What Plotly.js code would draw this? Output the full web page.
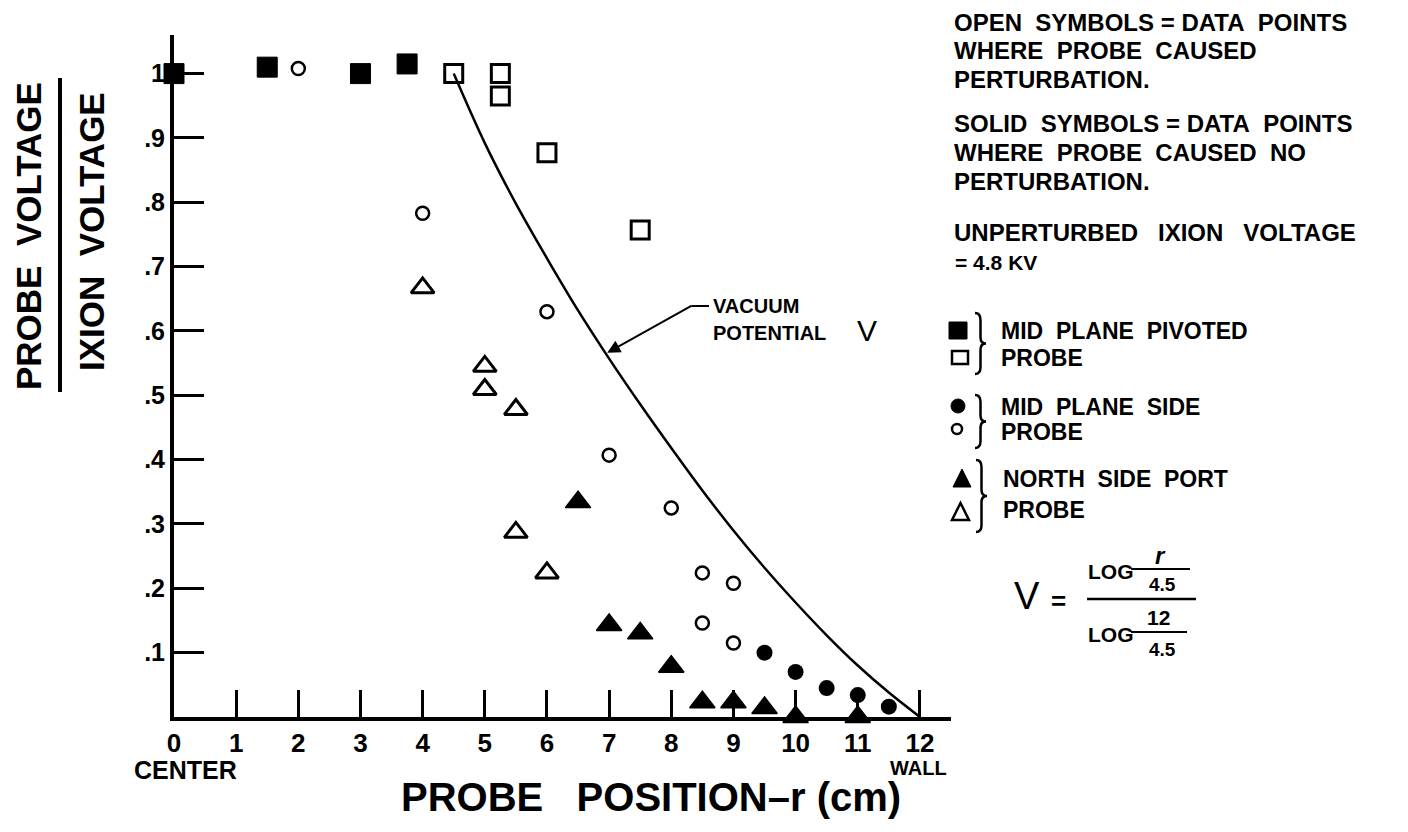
<!DOCTYPE html>
<html>
<head>
<meta charset="utf-8">
<script src="https://cdn.plot.ly/plotly-3.0.1.min.js"></script>
<style>
  html, body { margin: 0; padding: 0; background: #fff; }
  #chart { width: 1408px; height: 832px; }
</style>
</head>
<body>
<div id="chart"></div>
<script>
// Probe position r (cm) and probe voltage / Ixion voltage, per probe and perturbation class
const pivotedSolidR = [0, 1.5, 3.0, 3.75];
const pivotedSolidV = [1.0, 1.01, 1.0, 1.015];
const pivotedOpenR  = [4.5, 5.25, 5.25, 6.0, 7.5];
const pivotedOpenV  = [1.0, 1.0, 0.965, 0.877, 0.757];

const sideSolidR = [9.5, 10.0, 10.5, 11.0, 11.5];
const sideSolidV = [0.10, 0.07, 0.045, 0.034, 0.016];
const sideOpenR  = [2.0, 4.0, 6.0, 7.0, 8.0, 8.5, 9.0, 8.5, 9.0];
const sideOpenV  = [1.008, 0.783, 0.63, 0.407, 0.325, 0.224, 0.208, 0.146, 0.115];

const northSolidR = [6.5, 7.0, 7.5, 8.0, 8.5, 9.0, 9.5, 10.0, 11.0];
const northSolidV = [0.334, 0.143, 0.13, 0.078, 0.023, 0.023, 0.014, 0.0, 0.0];
const northOpenR  = [4.0, 5.0, 5.0, 5.5, 5.5, 6.0];
const northOpenV  = [0.667, 0.545, 0.509, 0.478, 0.287, 0.224];

// Vacuum potential V along the radius
const vacuumR = [4.5, 5.0, 5.5, 6.0, 6.5, 7.0, 7.5, 8.0, 8.5, 9.0, 9.5, 10.0, 10.5, 11.0, 11.5, 12.0];
const vacuumV = [1.0, 0.892, 0.798, 0.713, 0.632, 0.557, 0.486, 0.418, 0.352, 0.29, 0.232, 0.178, 0.127, 0.08, 0.038, 0.0];

// Axis ticks
const xTickVals = [0, 1, 2, 3, 4, 5, 6, 7, 8, 9, 10, 11, 12];
const xTickText = ['0', '1', '2', '3', '4', '5', '6', '7', '8', '9', '10', '11', '12'];
const yTickVals = [0.1, 0.2, 0.3, 0.4, 0.5, 0.6, 0.7, 0.8, 0.9, 1.0];
const yTickText = ['.1', '.2', '.3', '.4', '.5', '.6', '.7', '.8', '.9', '1'];

// Arrow target on the vacuum curve
const arrowR = 6.97;
const arrowV = 0.566;

const INK = '#000000';
const FONT = 'Liberation Sans, Arial, Helvetica, sans-serif';

// Plot frame in page pixels
const L = 174, T = 35, W = 777, H = 682;
const px = X => (X - L) / W;
const py = Y => (T + H - Y) / H;

function label(text, X, Y, size, opts) {
  opts = opts || {};
  return {
    xref: 'paper', yref: 'paper', x: px(X), y: py(Y),
    xanchor: opts.xanchor || 'left', yanchor: 'middle',
    text: text, showarrow: false, textangle: opts.angle || 0,
    font: { family: FONT, size: size, color: INK, weight: opts.weight || 'bold', style: opts.style || 'normal' }
  };
}

function segment(X0, Y0, X1, Y1, w) {
  return { type: 'line', xref: 'paper', yref: 'paper',
    x0: px(X0), y0: py(Y0), x1: px(X1), y1: py(Y1),
    line: { color: INK, width: w } };
}

function pathShape(pts, filled, w) {
  const d = pts.map((p, i) => (i ? 'L' : 'M') + px(p[0]) + ',' + py(p[1])).join(' ') + ' Z';
  return { type: 'path', xref: 'paper', yref: 'paper', path: d,
    fillcolor: filled ? INK : 'rgba(0,0,0,0)', line: { color: INK, width: w } };
}

function brace(X, top, bottom, w) {
  const m = (top + bottom) / 2, h = X + w * 0.5;
  const P = (a, b) => px(a) + ',' + py(b);
  const d = 'M' + P(X, top) + ' Q' + P(h, top) + ' ' + P(h, top + 7) +
    ' L' + P(h, m - 6) + ' Q' + P(h, m) + ' ' + P(X + w, m) +
    ' Q' + P(h, m) + ' ' + P(h, m + 6) +
    ' L' + P(h, bottom - 7) + ' Q' + P(h, bottom) + ' ' + P(X, bottom);
  return { type: 'path', xref: 'paper', yref: 'paper', path: d,
    fillcolor: 'rgba(0,0,0,0)', line: { color: INK, width: 2.5 } };
}

function box(X0, Y0, X1, Y1, kind, filled, w) {
  return { type: kind, xref: 'paper', yref: 'paper',
    x0: px(X0), y0: py(Y1), x1: px(X1), y1: py(Y0),
    fillcolor: filled ? INK : 'rgba(0,0,0,0)', line: { color: INK, width: w || 1 } };
}

const markerTrace = (x, y, symbol, size, lw) => ({
  x: x, y: y, type: 'scatter', mode: 'markers', cliponaxis: false, hoverinfo: 'skip',
  marker: { symbol: symbol, size: size, color: INK, line: { color: INK, width: lw } }
});

const data = [
  { x: vacuumR, y: vacuumV, type: 'scatter', mode: 'lines', hoverinfo: 'skip',
    line: { color: INK, width: 2.5, shape: 'spline', smoothing: 1 } },
  markerTrace(pivotedSolidR, pivotedSolidV, 'square', 20, 1),
  markerTrace(pivotedOpenR, pivotedOpenV, 'square-open', 18, 3),
  markerTrace(sideSolidR, sideSolidV, 'circle', 16, 0),
  markerTrace(sideOpenR, sideOpenV, 'circle-open', 13, 2.5),
  markerTrace(northSolidR, northSolidV, 'triangle-up', 22, 1.5),
  markerTrace(northOpenR, northOpenV, 'triangle-up-open', 20, 3)
];

const annotations = [
  // y-axis title as a ratio
  label('PROBE&nbsp;&nbsp;VOLTAGE', 29, 236, 35, { xanchor: 'center', angle: -90 }),
  label('IXION&nbsp;&nbsp;VOLTAGE', 92, 232, 35, { xanchor: 'center', angle: -90 }),
  // x-axis title and end labels
  label('PROBE&nbsp;&nbsp;&nbsp;POSITION–r (cm)', 651, 797, 40, { xanchor: 'center' }),
  label('CENTER', 185, 770, 25, { xanchor: 'center' }),
  label('WALL', 918, 768, 20, { xanchor: 'center' }),
  // curve callout
  label('VACUUM', 711, 306, 20),
  label('POTENTIAL', 711, 333, 20),
  label('V', 867, 331, 30, { xanchor: 'center', weight: 'normal' }),
  {
    x: arrowR, y: arrowV, xref: 'x', yref: 'y', text: '', showarrow: true,
    ax: 86, ay: -48, arrowhead: 2, arrowsize: 1.3, arrowwidth: 2, arrowcolor: INK, standoff: 0
  },
  // notes
  label('OPEN&nbsp;&nbsp;SYMBOLS = DATA&nbsp;&nbsp;POINTS', 952, 22, 24),
  label('WHERE&nbsp;&nbsp;PROBE&nbsp;&nbsp;CAUSED', 952, 51, 24),
  label('PERTURBATION.', 952, 79, 24),
  label('SOLID&nbsp;&nbsp;SYMBOLS = DATA&nbsp;&nbsp;POINTS', 952, 123, 24),
  label('WHERE&nbsp;&nbsp;PROBE&nbsp;&nbsp;CAUSED&nbsp;&nbsp;NO', 952, 153, 24),
  label('PERTURBATION.', 952, 181, 24),
  label('UNPERTURBED&nbsp;&nbsp;&nbsp;IXION&nbsp;&nbsp;&nbsp;VOLTAGE', 952, 233, 24),
  label('= 4.8 KV', 953, 262, 21),
  // symbol key
  label('MID&nbsp;&nbsp;PLANE&nbsp;&nbsp;PIVOTED', 999, 331, 23),
  label('PROBE', 999, 358, 23),
  label('MID&nbsp;&nbsp;PLANE&nbsp;&nbsp;SIDE', 999, 407, 23),
  label('PROBE', 999, 432, 23),
  label('NORTH&nbsp;&nbsp;SIDE&nbsp;&nbsp;PORT', 1001, 479, 23),
  label('PROBE', 1001, 510, 23),
  // potential formula
  label('V', 1027, 596, 38, { xanchor: 'center', weight: 'normal' }),
  label('=', 1058, 601, 26, { xanchor: 'center' }),
  label('LOG', 1086, 571, 21),
  label('r', 1160, 555, 24, { xanchor: 'center', style: 'italic' }),
  label('4.5', 1162, 584, 19, { xanchor: 'center' }),
  label('LOG', 1086, 634, 21),
  label('12', 1158, 617, 21, { xanchor: 'center' }),
  label('4.5', 1162, 649, 19, { xanchor: 'center' })
];

const shapes = [
  segment(60, 78, 60, 392, 4),
  segment(692, 306, 709, 306, 2),
  // key symbols
  box(949, 322, 967, 339, 'rect', true),
  box(952, 351, 968, 364, 'rect', false, 2.5),
  box(951, 399, 965, 413, 'circle', true),
  box(952, 424, 962, 434, 'circle', false, 2.5),
  pathShape([[953, 487], [971, 487], [962, 469]], true, 1),
  pathShape([[952, 520], [969, 520], [960.5, 503]], false, 2.5),
  brace(975, 313, 374, 11),
  brace(975, 395, 448, 11),
  brace(976, 460, 532, 11),
  // formula bars
  segment(1131, 569, 1190, 569, 2),
  segment(1087, 599, 1196, 599, 2.5),
  segment(1131, 632, 1187, 632, 2)
];

const axisCommon = {
  showline: true, linecolor: INK, linewidth: 4, mirror: false,
  ticks: 'inside', tickcolor: INK, tickwidth: 3,
  showgrid: false, zeroline: false, fixedrange: true,
  tickmode: 'array', automargin: false,
  tickfont: { family: FONT, size: 26, color: INK, weight: 'bold' }
};

const layout = {
  width: 1408, height: 832,
  margin: { l: L, r: 1408 - L - W, t: T, b: 832 - T - H },
  paper_bgcolor: '#ffffff', plot_bgcolor: '#ffffff',
  showlegend: false,
  xaxis: Object.assign({}, axisCommon, {
    range: [0, 12.5], tickvals: xTickVals, ticktext: xTickText, ticklen: 27
  }),
  yaxis: Object.assign({}, axisCommon, {
    range: [0, 1.06], tickvals: yTickVals, ticktext: yTickText, ticklen: 30,
    tickfont: { family: FONT, size: 25, color: INK, weight: 'bold' }
  }),
  annotations: annotations,
  shapes: shapes
};

Plotly.newPlot('chart', data, layout, { staticPlot: true, displayModeBar: false });
</script>
</body>
</html>
